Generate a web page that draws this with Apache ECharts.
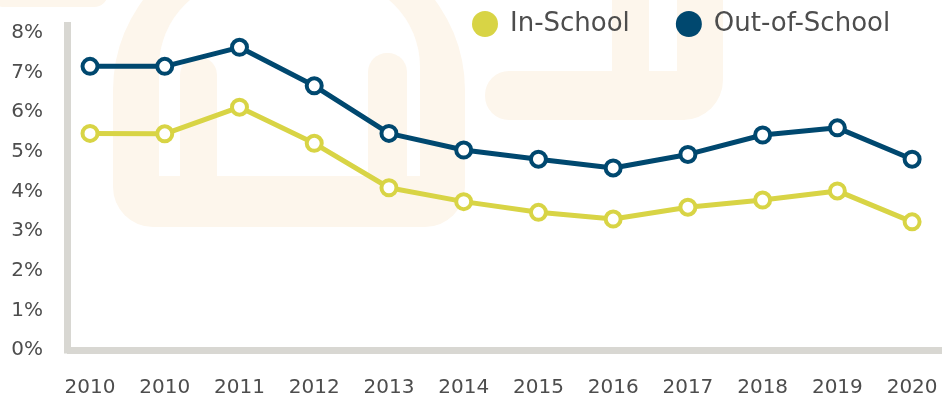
<!DOCTYPE html>
<html>
<head>
<meta charset="utf-8">
<script src="https://cdn.jsdelivr.net/npm/echarts@6/dist/echarts.min.js"></script>
<style>
  html, body { margin: 0; padding: 0; background: #fff; }
  #chart { width: 952px; height: 401px; }
</style>
</head>
<body>
<div id="chart"></div>
<script>
// data
const years = ['2010', '2010', '2011', '2012', '2013', '2014', '2015', '2016', '2017', '2018', '2019', '2020']
const inSchool = [5.46, 5.45, 6.12, 5.21, 4.09, 3.74, 3.47, 3.30, 3.60, 3.78, 4.01, 3.23]
const outOfSchool = [7.15, 7.15, 7.63, 6.66, 5.46, 5.04, 4.81, 4.59, 4.93, 5.42, 5.60, 4.81]
const yTicks = [0, 1, 2, 3, 4, 5, 6, 7, 8]

const BLUE = '#00486f'
const YELLOW = '#d8d445'
const GREY = '#d8d7d2'
const BEIGE = '#fdf6ec'
const TEXT = '#4d4d4d'
const FONT = 'DejaVu Sans'

const chart = echarts.init(document.getElementById('chart'))

function toPoints(values) {
  return values.map((v, i) => [i, v])
}

// faint logo watermark behind the plot
const watermark = [
  { type: 'rect', shape: { x: -10, y: -30, width: 118, height: 37, r: 14 }, style: { fill: BEIGE } },
  { type: 'rect', shape: { x: 113, y: -60, width: 352, height: 287, r: [150, 150, 40, 40] }, style: { fill: BEIGE } },
  { type: 'rect', shape: { x: 159, y: -21, width: 261, height: 197, r: [88, 88, 0, 0] }, style: { fill: '#fff' } },
  { type: 'rect', shape: { x: 180, y: 57, width: 37, height: 125, r: [18, 18, 0, 0] }, style: { fill: BEIGE } },
  { type: 'rect', shape: { x: 368, y: 53, width: 39, height: 129, r: [19, 19, 0, 0] }, style: { fill: BEIGE } },
  { type: 'rect', shape: { x: 485, y: 71, width: 200, height: 49, r: [24, 0, 0, 24] }, style: { fill: BEIGE } },
  { type: 'rect', shape: { x: 612, y: -10, width: 111, height: 130, r: [0, 0, 40, 0] }, style: { fill: BEIGE } },
  { type: 'rect', shape: { x: 649, y: -10, width: 28, height: 81 }, style: { fill: '#fff' } },
].map((el) => Object.assign({ z: -10, silent: true }, el))

chart.setOption({
  animation: false,
  textStyle: { fontFamily: FONT },
  graphic: { elements: watermark },
  legend: {
    left: 467,
    top: 6,
    itemWidth: 26,
    itemHeight: 26,
    itemGap: 46,
    textStyle: { fontFamily: FONT, fontSize: 26, color: TEXT, padding: [0, 0, 0, 7] },
    data: [
      { name: 'In-School', icon: 'circle', itemStyle: { color: YELLOW, borderWidth: 0 } },
      { name: 'Out-of-School', icon: 'circle', itemStyle: { color: BLUE, borderWidth: 0 } },
    ],
  },
  grid: {
    left: 67,
    right: 10,
    top: 25.5,
    bottom: 51,
  },
  xAxis: {
    type: 'value',
    min: -0.308,
    max: 11.4,
    axisLine: { show: true, onZero: false, lineStyle: { color: GREY, width: 7, cap: 'butt' } },
    axisTick: { show: false },
    splitLine: { show: false },
    axisLabel: {
      customValues: years.map((y, i) => i),
      formatter: (v) => years[Math.round(v)],
      fontFamily: FONT,
      fontSize: 20,
      color: TEXT,
      margin: 28,
    },
  },
  yAxis: {
    type: 'value',
    min: 0,
    max: 8.18,
    axisLine: { show: true, onZero: false, lineStyle: { color: GREY, width: 7, cap: 'square' } },
    axisTick: { show: false },
    splitLine: { show: false },
    axisLabel: {
      customValues: yTicks,
      formatter: '{value}%',
      fontFamily: FONT,
      fontSize: 20,
      color: TEXT,
      margin: 24,
    },
  },
  series: [
    {
      name: 'In-School',
      type: 'line',
      data: toPoints(inSchool),
      symbol: 'circle',
      symbolSize: 15,
      lineStyle: { color: YELLOW, width: 5 },
      itemStyle: { color: '#fff', borderColor: YELLOW, borderWidth: 4 },
      z: 3,
    },
    {
      name: 'Out-of-School',
      type: 'line',
      data: toPoints(outOfSchool),
      symbol: 'circle',
      symbolSize: 15,
      lineStyle: { color: BLUE, width: 5 },
      itemStyle: { color: '#fff', borderColor: BLUE, borderWidth: 4 },
      z: 4,
    },
  ],
})
</script>
</body>
</html>
